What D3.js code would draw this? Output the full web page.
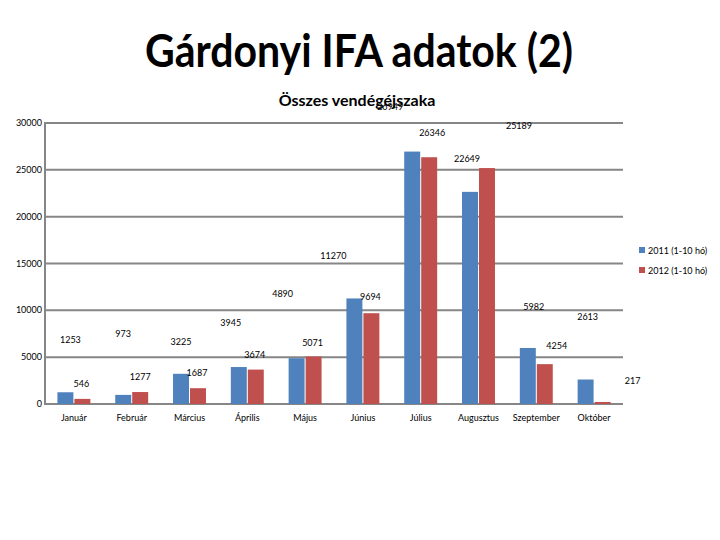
<!DOCTYPE html>
<html>
<head>
<meta charset="utf-8">
<script src="https://cdn.jsdelivr.net/npm/d3@7"></script>
<style>
  body { margin: 0; background: #fff; }
  text { font-family: Lato, "Open Sans", sans-serif; }
</style>
</head>
<body>
<svg id="chart" width="720" height="540"></svg>
<script>
var months = ["Január", "Február", "Március", "Április", "Május", "Június", "Július", "Augusztus", "Szeptember", "Október"];
var series = ["2011 (1-10 hó)", "2012 (1-10 hó)"];
var v2011 = [1253, 973, 3225, 3945, 4890, 11270, 26949, 22649, 5982, 2613];
var v2012 = [546, 1277, 1687, 3674, 5071, 9694, 26346, 25189, 4254, 217];
var yTicks = [0, 5000, 10000, 15000, 20000, 25000, 30000];

// data labels were moved around by hand in the original, so nudge each one (px from the bar top)
var nudge2011 = [[5,-52],[0,-61],[0,-32],[-8,-44],[-14,-64],[-21,-42],[-22,-45],[-3,-33],[6,-41],[2,-63]];
var nudge2012 = [[-1,-15],[0,-15],[-1,-15],[-1,-15],[-1,-14],[-1,-16],[3,-24],[32,-42],[12,-18],[30,-21]];

var colors = ["#4f81bd", "#c0504d"];
var svg = d3.select("#chart");

var plotL = 45, plotR = 623, plotT = 123, plotB = 404;

var x0 = d3.scaleBand().domain(months).range([plotL, plotR]).paddingInner(0.43).paddingOuter(0.215);
var x1 = d3.scaleBand().domain([0, 1]).range([0, x0.bandwidth()]).paddingInner(0.06);
var y = d3.scaleLinear().domain([0, 30000]).range([plotB, plotT]);

// title
svg.append("text")
  .attr("x", 359).attr("y", 67)
  .attr("text-anchor", "middle")
  .attr("textLength", 428).attr("lengthAdjust", "spacingAndGlyphs")
  .style("font-size", "45px").style("font-weight", "bold")
  .text("Gárdonyi IFA adatok (2)");

svg.append("text")
  .attr("x", 357).attr("y", 106)
  .attr("text-anchor", "middle")
  .style("font-size", "16px").style("font-weight", "bold")
  .text("Összes vendégéjszaka");

// grid
svg.selectAll(".grid").data(yTicks).enter().append("line")
  .attr("x1", plotL).attr("x2", plotR)
  .attr("y1", function(d){ return y(d); }).attr("y2", function(d){ return y(d); })
  .attr("stroke", "#868686").attr("stroke-width", 2);

svg.append("line")
  .attr("x1", plotL).attr("x2", plotL).attr("y1", plotT - 1).attr("y2", plotB + 1)
  .attr("stroke", "#868686").attr("stroke-width", 2);

svg.selectAll(".ytick").data(yTicks).enter().append("text")
  .attr("x", 42).attr("y", function(d){ return y(d) + 3; })
  .attr("text-anchor", "end")
  .style("font-size", "9px")
  .text(function(d){ return d; });

svg.selectAll(".xtick").data(months).enter().append("text")
  .attr("x", function(d){ return x0(d) + x0.bandwidth() / 2; })
  .attr("y", 421)
  .attr("text-anchor", "middle")
  .style("font-size", "9px")
  .text(function(d){ return d; });

var all = [v2011, v2012];
var nudges = [nudge2011, nudge2012];

all.forEach(function(vals, s){
  var g = svg.append("g");
  g.selectAll("rect").data(vals).enter().append("rect")
    .attr("x", function(d, i){ return x0(months[i]) + x1(s); })
    .attr("width", x1.bandwidth())
    .attr("y", function(d){ return y(d); })
    .attr("height", function(d){ return y(0) - y(d); })
    .attr("fill", colors[s]);

  g.selectAll("text").data(vals).enter().append("text")
    .attr("x", function(d, i){ return x0(months[i]) + x1(s) + x1.bandwidth() / 2 + nudges[s][i][0]; })
    .attr("y", function(d, i){ return y(d) + nudges[s][i][1] + 3; })
    .attr("text-anchor", "middle")
    .style("font-size", "9px")
    .text(function(d){ return d; });
});

// legend
var leg = svg.selectAll(".leg").data(series).enter().append("g")
  .attr("transform", function(d, i){ return "translate(639," + (247 + i * 20) + ")"; });
leg.append("rect").attr("width", 6).attr("height", 6)
  .attr("fill", function(d, i){ return colors[i]; });
leg.append("text").attr("x", 9).attr("y", 6.5)
  .style("font-size", "9px")
  .text(function(d){ return d; });
</script>
</body>
</html>
